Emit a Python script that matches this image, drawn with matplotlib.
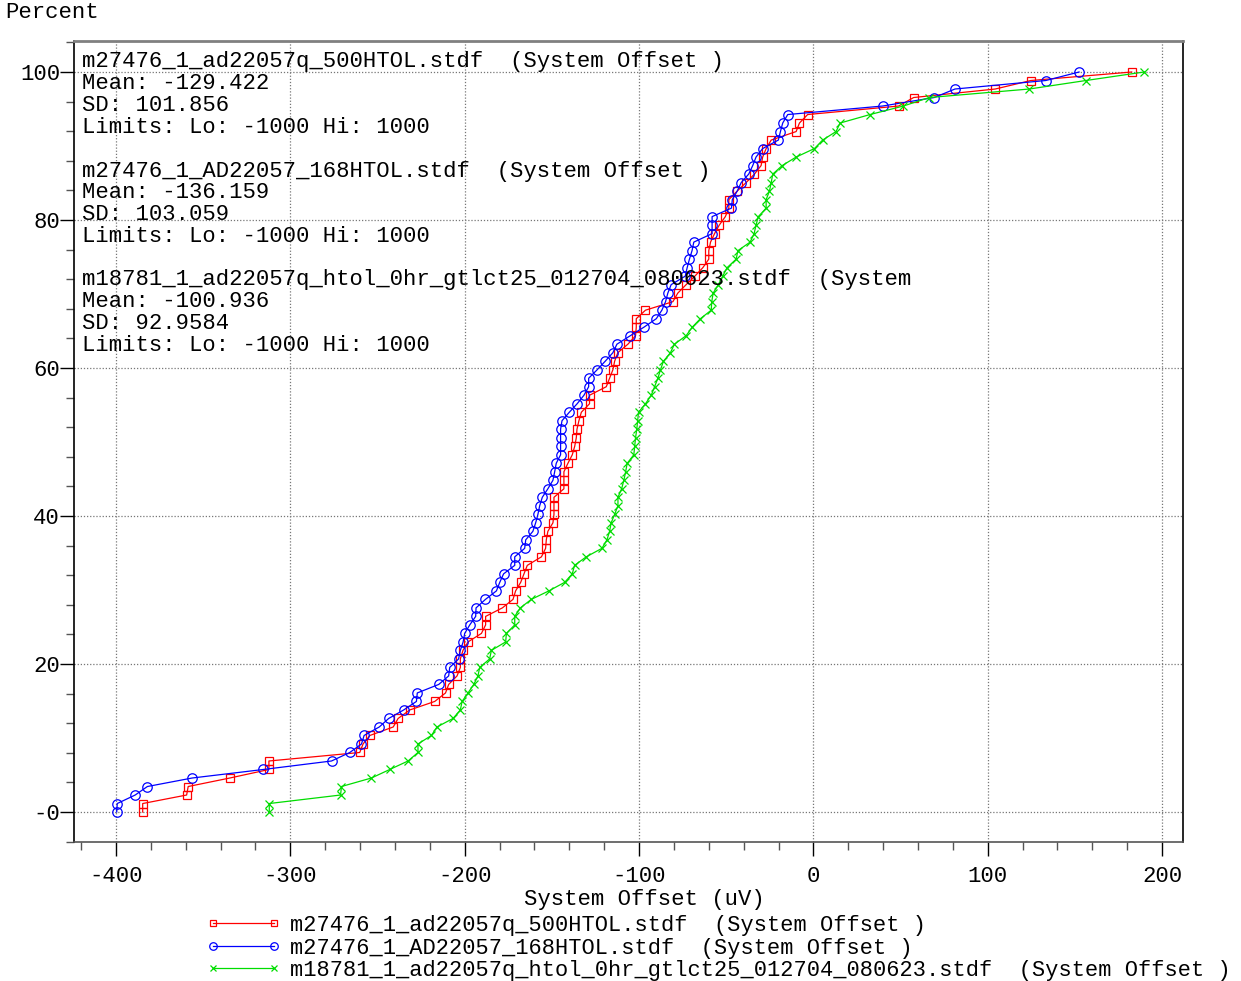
"""
Cumulative percent plot of System Offset for three HTOL stdf lots.
"""

import numpy as np
import matplotlib
matplotlib.use("Agg")
import matplotlib.pyplot as plt
from matplotlib.ticker import MultipleLocator, FuncFormatter

plt.rcParams.update({
    "font.family": ["Liberation Mono", "DejaVu Sans Mono"],
    "font.size": 16,
    "axes.unicode_minus": False,
})

# ---------------------------------------------------------------------------
# Data: sorted System Offset readings (uV) per lot
# ---------------------------------------------------------------------------

lot_500 = [
    -384.7, -384.7, -359.5, -358.6, -334.7, -312.3, -312.3, -260.2, -258.3, -254.4,
    -241.0, -238.2, -231.5, -217.2, -211.0, -209.2, -204.4, -202.5, -202.5, -201.0,
    -198.1, -190.4, -188.0, -188.0, -178.4, -172.3, -170.8, -167.9, -166.0, -164.1,
    -156.0, -153.6, -153.2, -152.3, -149.4, -148.8, -148.8, -148.8, -143.1, -143.1,
    -143.1, -140.8, -138.3, -136.9, -136.0, -135.6, -134.5, -133.1, -128.4, -128.4,
    -118.8, -116.9, -115.0, -114.0, -112.2, -106.4, -102.0, -101.6, -101.6, -96.3,
    -80.6, -77.8, -73.0, -68.0, -63.4, -60.0, -60.0, -59.0, -56.7, -54.0,
    -50.5, -48.5, -48.5, -43.7, -38.6, -33.8, -30.0, -29.1, -27.1, -24.2,
    -9.9, -8.0, -3.3, 48.9, 57.5, 104.3, 124.7, 182.6,
]

lot_168 = [
    -399.6, -399.3, -389.0, -382.0, -356.3, -315.6, -276.4, -265.9, -259.2, -257.7,
    -249.0, -243.6, -235.0, -227.7, -227.2, -214.9, -209.2, -208.6, -203.5, -202.5,
    -200.9, -200.0, -197.1, -193.7, -193.5, -188.1, -181.8, -179.9, -177.7, -171.3,
    -171.3, -165.6, -165.0, -160.9, -159.3, -158.0, -157.0, -155.5, -152.3, -149.4,
    -148.4, -147.5, -145.0, -145.0, -145.0, -145.0, -144.2, -140.0, -135.5, -131.6,
    -128.9, -128.9, -124.0, -119.4, -115.0, -112.7, -105.0, -97.2, -90.1, -86.9,
    -84.8, -83.5, -81.6, -73.5, -72.4, -71.1, -69.6, -68.6, -58.1, -58.1,
    -58.1, -47.0, -46.5, -43.7, -41.4, -37.1, -34.8, -32.9, -29.1, -20.1,
    -18.9, -17.6, -14.7, 39.7, 69.3, 81.2, 133.3, 152.4,
]

lot_0hr = [
    -312.1, -312.1, -271.2, -270.7, -253.5, -243.0, -232.5, -226.8, -226.8, -219.1,
    -215.9, -206.7, -202.5, -201.5, -198.1, -194.8, -192.4, -191.4, -185.7, -184.7,
    -176.5, -176.1, -171.3, -171.3, -168.1, -161.8, -151.7, -142.7, -138.3, -137.0,
    -130.3, -121.3, -118.4, -116.9, -116.0, -114.0, -112.1, -112.1, -110.0, -108.7,
    -107.7, -106.8, -103.0, -102.5, -102.0, -101.3, -100.8, -100.3, -96.3, -93.0,
    -91.1, -89.2, -87.7, -86.0, -82.0, -79.7, -73.0, -69.5, -64.8, -58.6,
    -58.3, -57.5, -54.5, -52.0, -49.5, -44.3, -43.3, -36.3, -34.0, -32.9,
    -31.6, -27.1, -27.1, -25.2, -24.2, -23.3, -17.9, -9.9, 0.6, 5.3,
    13.0, 15.3, 32.5, 51.6, 66.5, 123.8, 156.3, 189.7,
]

lot_files = [
    "m27476_1_ad22057q_500HTOL.stdf",
    "m27476_1_AD22057_168HTOL.stdf",
    "m18781_1_ad22057q_htol_0hr_gtlct25_012704_080623.stdf",
]
lot_means = ["-129.422", "-136.159", "-100.936"]
lot_sds = ["101.856", "103.059", "92.9584"]
lot_limits = ("-1000", "1000")
param = "System Offset"

x_ticks = [-400, -300, -200, -100, 0, 100, 200]
y_ticks = [0, 20, 40, 60, 80, 100]


def cum_percent(values):
    n = len(values)
    return np.arange(n) * 100.0 / (n - 1)


# ---------------------------------------------------------------------------
# Figure
# ---------------------------------------------------------------------------

W, H = 1241, 981
fig = plt.figure(figsize=(W / 100, H / 100), dpi=100)
ax_l, ax_r, ax_t, ax_b = 74, 1183, 41, 842
ax = fig.add_axes([ax_l / W, 1 - ax_b / H, (ax_r - ax_l) / W, (ax_b - ax_t) / H])

styles = [
    dict(color="#ff0000", marker="s", ms=5.5),
    dict(color="#0000ff", marker="o", ms=6.8),
    dict(color="#00dd00", marker="x", ms=6.0),
]
series = [lot_500, lot_168, lot_0hr]
handles = []
for vals, name, st in zip(series, lot_files, styles):
    h, = ax.plot(vals, cum_percent(vals), color=st["color"], lw=0.9,
                 marker=st["marker"], ms=st["ms"], mfc="none",
                 mec=st["color"], mew=0.9,
                 label=f"{name}  ({param} )")
    handles.append(h)

ax.set_xlim(-424.1, 212.0)
ax.set_ylim(-4.05, 104.19)
ax.set_xticks(x_ticks)
ax.set_yticks(y_ticks)
ax.xaxis.set_minor_locator(MultipleLocator(20))
ax.yaxis.set_minor_locator(MultipleLocator(4))
ax.yaxis.set_major_formatter(FuncFormatter(lambda v, p: "-0" if v == 0 else f"{v:g}"))
ax.tick_params(which="major", direction="out", length=10, width=1, color="black",
               labelsize=16)
ax.tick_params(which="minor", direction="out", length=6, width=1, color="#555555")
ax.tick_params(axis="x", which="major", pad=7)
ax.tick_params(axis="y", which="major", pad=0)
ax.grid(True, which="major", linestyle=(0, (1, 1.5)), color="#777777", lw=0.9)

ax.spines["top"].set_color("#808080")
ax.spines["top"].set_linewidth(2)
ax.spines["right"].set_color("black")
ax.spines["bottom"].set_color("#555555")
ax.spines["left"].set_color("black")
for s in ax.spines.values():
    s.set_linewidth(max(s.get_linewidth(), 1.2))

# stats block in the top-left corner of the plot
lines = []
for i, name in enumerate(lot_files):
    tag = f"{name}  ({param} )" if i < 2 else f"{name}  (System"
    lines += [tag, f"Mean: {lot_means[i]}", f"SD: {lot_sds[i]}",
              f"Limits: Lo: {lot_limits[0]} Hi: {lot_limits[1]}", ""]
for k, txt in enumerate(lines):
    if txt:
        fig.text(82 / W, 1 - (62 + 21.8 * k) / H, txt, va="center", ha="left",
                 fontsize=16)

fig.text(5 / W, 1 - 13 / H, "Percent", va="center", ha="left", fontsize=16)
fig.text(644 / W, 1 - 900 / H, f"{param} (uV)", va="center", ha="center",
         fontsize=16)

fig.legend(handles=handles, loc="upper left",
           bbox_to_anchor=(206 / W, 1 - 915 / H), frameon=False,
           numpoints=2, handlelength=3.4, handletextpad=0.45,
           labelspacing=0.07, borderaxespad=0, borderpad=0,
           markerscale=0.8, fontsize=15.8)

fig.savefig("out.png", dpi=100)
